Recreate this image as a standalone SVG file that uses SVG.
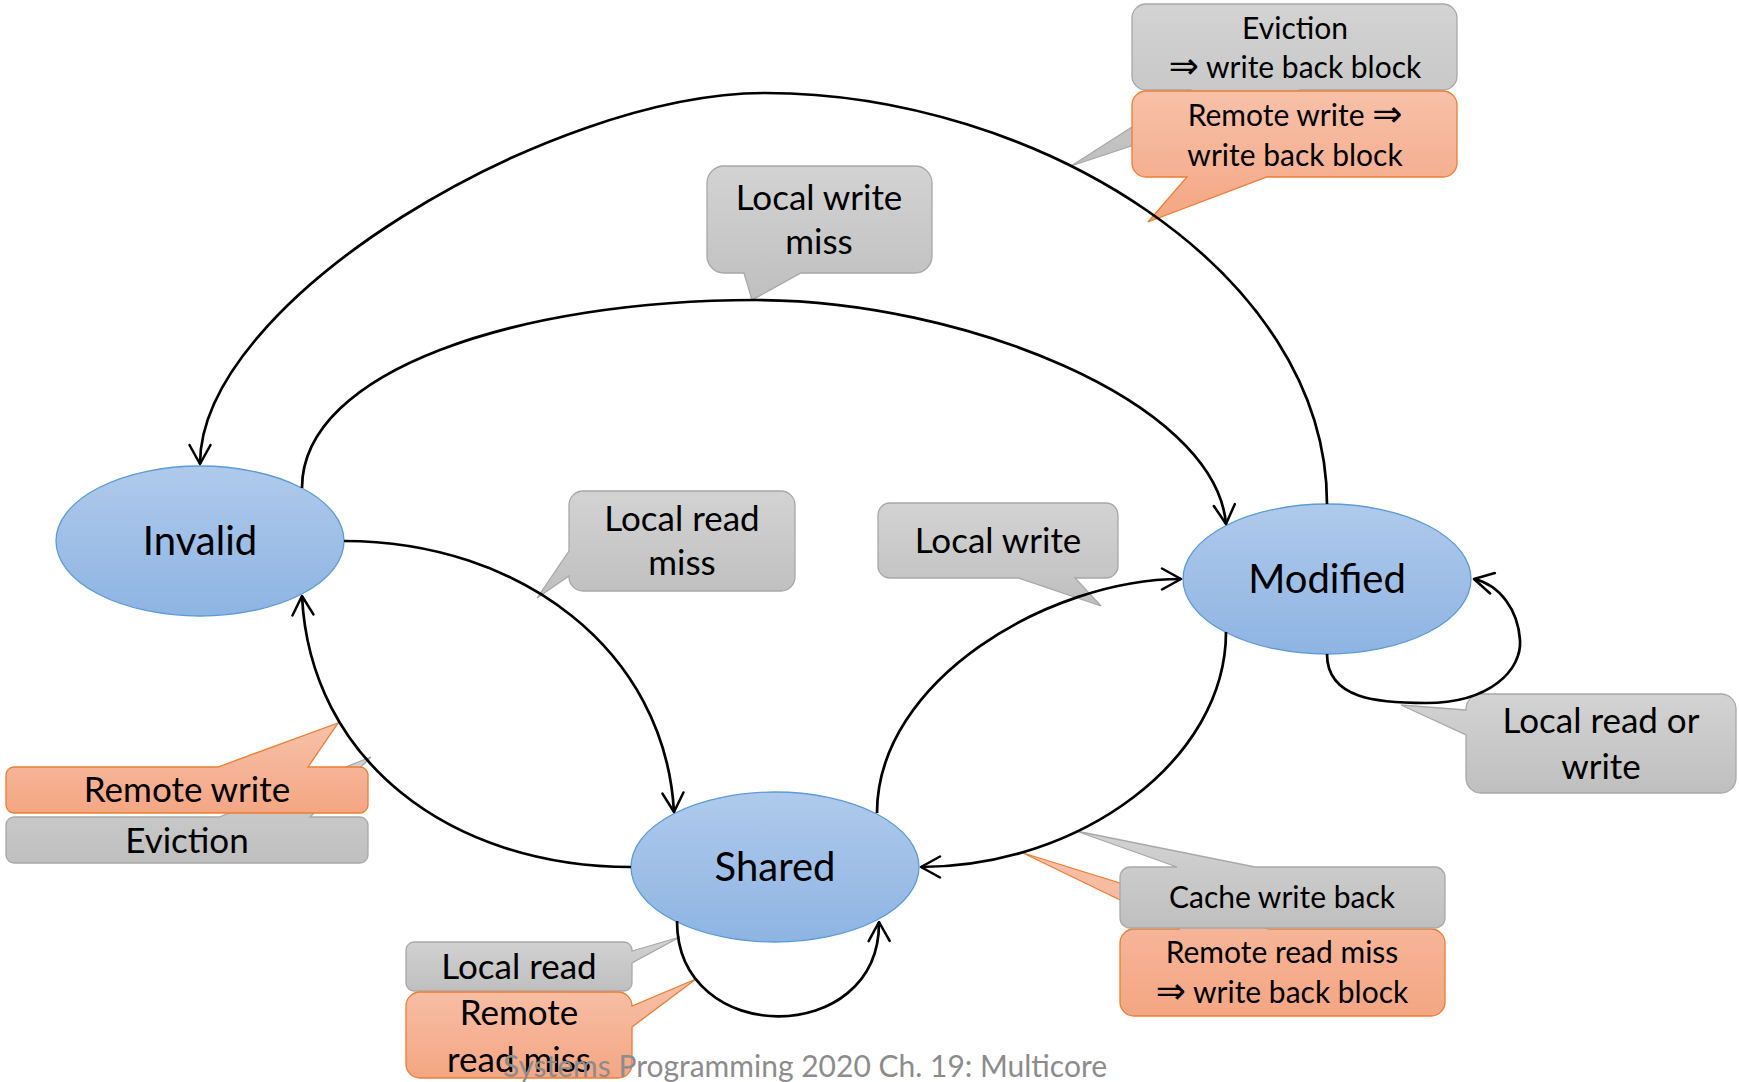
<svg xmlns="http://www.w3.org/2000/svg" width="1739" height="1082" viewBox="0 0 1739 1082">
<defs>
<linearGradient id="gBlue" x1="0" y1="0" x2="0" y2="1"><stop offset="0" stop-color="#afcaeb"/><stop offset="1" stop-color="#8eb4e3"/></linearGradient>
<linearGradient id="gGray" x1="0" y1="0" x2="0" y2="1"><stop offset="0" stop-color="#d3d3d3"/><stop offset="1" stop-color="#bfbfbf"/></linearGradient>
<linearGradient id="gOrange" x1="0" y1="0" x2="0" y2="1"><stop offset="0" stop-color="#f7c1a9"/><stop offset="1" stop-color="#f4a683"/></linearGradient>
<marker id="arr" markerUnits="userSpaceOnUse" markerWidth="24" markerHeight="24" viewBox="0 0 24 24" refX="21" refY="12" orient="auto">
<path d="M2,1.5 L21,12 L2,22.5" fill="none" stroke="#000" stroke-width="2.5" stroke-linecap="round" stroke-linejoin="round"/>
</marker>
</defs>
<style>
.node{fill:url(#gBlue);stroke:#5b9bd5;stroke-width:1.3}
.gray{fill:url(#gGray);stroke:#a8a8a8;stroke-width:1.3}
.orange{fill:url(#gOrange);stroke:#ed7d31;stroke-width:1.3}
.conn{fill:none;stroke:#000;stroke-width:2.7;marker-end:url(#arr)}
text{font-family:Lato,"DejaVu Sans",sans-serif;fill:#000;text-anchor:middle}
.t40{font-size:40px}
.t35{font-size:35px}
.t30{font-size:30px}
.arrow{font-size:36px}
.foot{font-size:30px;fill:#8c8c8c}
</style>

<g id="label-eviction-wb">
<path class="gray" d="M1146,4 H1443 A14,14 0 0 1 1457,18 V76 A14,14 0 0 1 1443,90 H1300 L1071,166 L1190,90 H1146 A14,14 0 0 1 1132,76 V18 A14,14 0 0 1 1146,4 Z"/>
<text class="t30" x="1295" y="39">Eviction</text>
<text class="t30" x="1295" y="78"><tspan class="arrow">⇒</tspan> write back block</text>
</g>
<g id="label-remote-write-wb">
<path class="orange" d="M1146,91 H1443 A14,14 0 0 1 1457,105 V163 A14,14 0 0 1 1443,177 H1267 L1148,222 L1187,177 H1146 A14,14 0 0 1 1132,163 V105 A14,14 0 0 1 1146,91 Z"/>
<text class="t30" x="1295" y="126">Remote write <tspan class="arrow">⇒</tspan></text>
<text class="t30" x="1295" y="166">write back block</text>
</g>
<g id="label-local-write-miss">
<path class="gray" d="M724,166 H915 A17,17 0 0 1 932,183 V256 A17,17 0 0 1 915,273 H801 L752,300 L744,273 H724 A17,17 0 0 1 707,256 V183 A17,17 0 0 1 724,166 Z"/>
<text class="t35" x="819" y="210">Local write</text>
<text class="t35" x="819" y="254">miss</text>
</g>
<g id="label-local-read-miss">
<path class="gray" d="M583,491 H781 A14,14 0 0 1 795,505 V577 A14,14 0 0 1 781,591 H583 A14,14 0 0 1 569,577 V576 L537,598 L569,551 V505 A14,14 0 0 1 583,491 Z"/>
<text class="t35" x="682" y="531">Local read</text>
<text class="t35" x="682" y="575">miss</text>
</g>
<g id="label-local-write">
<path class="gray" d="M890,503 H1106 A12,12 0 0 1 1118,515 V566 A12,12 0 0 1 1106,578 H1075 L1101,606 L1018,578 H890 A12,12 0 0 1 878,566 V515 A12,12 0 0 1 890,503 Z"/>
<text class="t35" x="998" y="553">Local write</text>
</g>
<g id="label-local-read-or-write">
<path class="gray" d="M1481,694 H1721 A15,15 0 0 1 1736,709 V778 A15,15 0 0 1 1721,793 H1481 A15,15 0 0 1 1466,778 V735 L1401,705 L1466,710 V709 A15,15 0 0 1 1481,694 Z"/>
<text class="t35" x="1601" y="733">Local read or</text>
<text class="t35" x="1601" y="779">write</text>
</g>
<g id="label-remote-read-miss-wb">
<path class="orange" d="M1134,929 H1180 L1023,853 L1269,929 H1431 A14,14 0 0 1 1445,943 V1002 A14,14 0 0 1 1431,1016 H1134 A14,14 0 0 1 1120,1002 V943 A14,14 0 0 1 1134,929 Z"/>
<text class="t30" x="1282" y="963">Remote read miss</text>
<text class="t30" x="1282" y="1003"><tspan class="arrow">⇒</tspan> write back block</text>
</g>
<g id="label-cache-write-back">
<path class="gray" d="M1130,867 H1177 L1076,831 L1255,867 H1435 A10,10 0 0 1 1445,877 V918 A10,10 0 0 1 1435,928 H1130 A10,10 0 0 1 1120,918 V877 A10,10 0 0 1 1130,867 Z"/>
<text class="t30" x="1282" y="908">Cache write back</text>
</g>
<g id="label-eviction">
<path class="gray" d="M14,817 H219 L371,757 L310,817 H360 A8,8 0 0 1 368,825 V855 A8,8 0 0 1 360,863 H14 A8,8 0 0 1 6,855 V825 A8,8 0 0 1 14,817 Z"/>
<text class="t35" x="187" y="853">Eviction</text>
</g>
<g id="label-remote-write">
<path class="orange" d="M14,767 H218 L338,723 L308,767 H360 A8,8 0 0 1 368,775 V805 A8,8 0 0 1 360,813 H14 A8,8 0 0 1 6,805 V775 A8,8 0 0 1 14,767 Z"/>
<text class="t35" x="187" y="802">Remote write</text>
</g>
<g id="label-local-read">
<path class="gray" d="M414,942 H624 A8,8 0 0 1 632,950 V951 L680,937 L632,963 V983 A8,8 0 0 1 624,991 H414 A8,8 0 0 1 406,983 V950 A8,8 0 0 1 414,942 Z"/>
<text class="t35" x="519" y="979">Local read</text>
</g>
<g id="label-remote-read-miss">
<path class="orange" d="M420,992 H618 A14,14 0 0 1 632,1006 L696,979 L632,1027 V1064 A14,14 0 0 1 618,1078 H420 A14,14 0 0 1 406,1064 V1006 A14,14 0 0 1 420,992 Z"/>
<text class="t35" x="519" y="1025">Remote</text>
<text class="t35" x="519" y="1072">read miss</text>
</g>

<g id="node-invalid">
<ellipse class="node" cx="200" cy="541" rx="144" ry="75"/>
<text class="t40" x="200" y="555">Invalid</text>
</g>
<g id="node-modified">
<ellipse class="node" cx="1327" cy="579" rx="144" ry="75"/>
<text class="t40" x="1327" y="593">Modified</text>
</g>
<g id="node-shared">
<ellipse class="node" cx="775" cy="867" rx="144" ry="75"/>
<text class="t40" x="775" y="881">Shared</text>
</g>

<g id="connectors">
<path class="conn" d="M1327,504 C1327,270 1035,93 765,93 C550,93 200,300 200,464"/>
<path class="conn" d="M302,488 C302,370 520,300 756,300 C960,300 1215,400 1226,524"/>
<path class="conn" d="M344,541 C520,541 665,650 674,812"/>
<path class="conn" d="M631,867 C450,867 310,760 302,596"/>
<path class="conn" d="M877,813 C877,680 1050,579 1181,579"/>
<path class="conn" d="M1226,632 C1226,760 1080,867 921,867"/>
<path class="conn" d="M677,921 C677,1048 880,1048 879,922"/>
<path class="conn" d="M1327,654 C1327,700 1380,703 1426,703 C1490,703 1522,670 1520,640 C1518,610 1500,585 1474,579"/>
</g>

<text class="foot" x="805" y="1077">Systems Programming 2020 Ch. 19: Multicore</text>
</svg>
